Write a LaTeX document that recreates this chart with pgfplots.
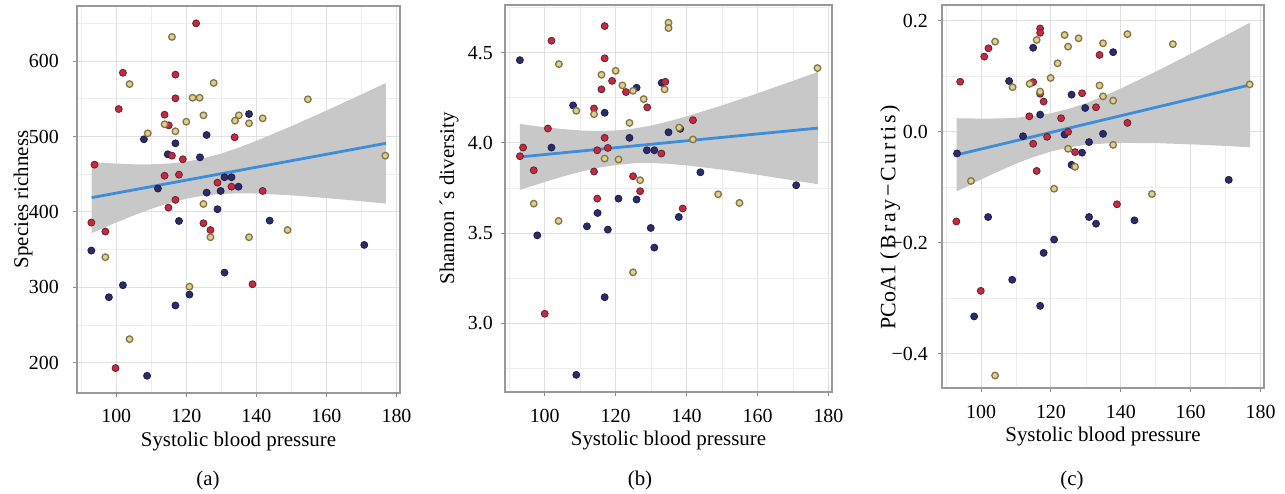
\documentclass[border=0pt]{standalone}
\usepackage{fontspec}
\setmainfont{Liberation Serif}
\usepackage{pgfplots}
\pgfplotsset{compat=1.18}
\definecolor{navyF}{HTML}{2D2B6B}
\definecolor{navyD}{HTML}{1E1D48}
\definecolor{redF}{HTML}{C9283F}
\definecolor{redD}{HTML}{5E2433}
\definecolor{oliveF}{HTML}{DCD08F}
\definecolor{oliveD}{HTML}{857546}
\definecolor{bandC}{HTML}{C8C8C8}
\definecolor{lineC}{HTML}{3A8EDB}
\pgfplotsset{
  panel/.style={
    scale only axis, anchor=south west,
    axis line style={draw=black!40, line width=1.3bp},
    tick style={draw=black!45, line width=1bp},
    tick align=outside, major tick length=4bp, minor tick length=0pt,
    xtick pos=left, ytick pos=left,
    grid=both,
    major grid style={draw=black!12, line width=1bp},
    minor grid style={draw=black!7, line width=0.8bp},
    xmin=88.8, xmax=181,
    xtick={100,120,140,160,180}, minor xtick={90,110,130,150,170},
    xticklabels={100,120,140,160,180},
    xticklabel style={anchor=base, yshift=-26bp, inner sep=0pt},
    yticklabel style={anchor=east, inner sep=0pt},
    font=\fontsize{20}{24}\selectfont,
    xlabel={Systolic blood pressure},
    xlabel style={at={(axis description cs:0.5,0)}, anchor=base, yshift=-53bp, font=\fontsize{21}{25}\selectfont},
  },
  navyM/.style={only marks, mark=*, mark size=3.5bp, mark options={fill=navyF, draw=navyD, line width=0.8bp}},
  redM/.style={only marks, mark=*, mark size=3.5bp, mark options={fill=redF, draw=redD, line width=0.8bp}},
  oliveM/.style={only marks, mark=*, mark size=3.3bp, mark options={fill=oliveF, draw=oliveD, line width=1.3bp}},
  bandS/.style={draw=none, fill=bandC},
  fitS/.style={draw=lineC, line width=2.8bp, no marks},
}
\begin{document}
\begin{tikzpicture}
\path[use as bounding box] (0,0) rectangle (1285bp,494bp);
% ---------------- (a)
\begin{axis}[panel, at={(77bp,101bp)}, width=323bp, height=387bp,
  ymin=160, ymax=673,
  ytick={200,300,400,500,600}, minor ytick={250,350,450,550,650},
  yticklabels={200,300,400,500,600},
  yticklabel style={xshift=-14bp},
  ylabel={Species richness},
  ylabel style={at={(axis description cs:-0.167,0.5)}, anchor=center, font=\fontsize{21}{25}\selectfont}]
\addplot[bandS] coordinates {(93,466.0) (100,464.0) (105,463.2) (110,463.1) (115,464.1) (120,466.7) (125,471.2) (130,477.5) (135,485.3) (140,494.2) (150,513.7) (160,534.4) (170,555.8) (177,571.0)
 (177,411.0) (170,414.2) (160,418.4) (150,422.0) (140,424.4) (135,424.7) (130,423.9) (125,421.7) (120,417.6) (115,411.6) (110,404.1) (105,395.4) (100,386.0) (93,372.0)} -- cycle;
\addplot[navyM] coordinates {(137.9,529.8) (125.8,502) (107.9,496.3) (116.9,491) (114.7,476.4) (123.9,472.4) (130.9,446) (132.9,446) (134.9,433.5) (111.9,431) (125.8,425.6) (129.8,427.8) (128.9,403.6) (117.9,388) (143.8,388.5) (92.9,348.8) (170.8,356.3) (130.9,319.6) (101.9,302.9) (120.9,290.5) (97.9,287) (116.9,276) (108.8,182.8)};
\addplot[redM] coordinates {(122.8,650) (101.9,584.5) (116.9,582) (116.9,550.6) (100.7,536.4) (113.8,528.9) (115.0,514.8) (133.8,499) (115.9,474.6) (119.0,469.8) (93.8,462.7) (113.8,448) (117.9,449.4) (128.9,438.8) (132.9,433.5) (141.8,427.8) (116.9,416) (114.9,405.7) (124.9,385) (126.9,376) (92.9,385.9) (96.9,374) (138.9,304.2) (99.8,193)};
\addplot[oliveM] coordinates {(115.9,632) (103.8,569.5) (127.8,571) (121.8,551.4) (123.8,551.4) (154.7,549.3) (124.9,528.1) (135.0,528.1) (133.9,521) (137.9,517.5) (141.8,524.1) (113.8,516.2) (120.0,519.6) (116.9,506.9) (109.0,504.2) (176.8,474.6) (124.9,410.6) (126.9,366.5) (148.9,376) (137.9,366.5) (96.9,340) (120.9,301) (103.8,231.4)};
\addplot[fitS] coordinates {(93,419) (177,491)};
\end{axis}
% ---------------- (b)
\begin{axis}[panel, at={(505bp,102bp)}, width=327bp, height=387bp,
  ymin=2.618, ymax=4.765,
  ytick={3.0,3.5,4.0,4.5}, minor ytick={2.75,3.25,3.75,4.25,4.75},
  yticklabels={3.0,3.5,4.0,4.5},
  yticklabel style={xshift=-8bp},
  ylabel={Shannon ´s diversity},
  ylabel style={at={(axis description cs:-0.171,0.5)}, anchor=center, font=\fontsize{21}{25}\selectfont}]
\addplot[bandS] coordinates {(93,4.105) (100,4.087) (105,4.077) (110,4.069) (115,4.066) (120,4.069) (125,4.079) (130,4.096) (135,4.120) (140,4.147) (150,4.208) (160,4.275) (170,4.344) (177,4.394)
 (177,3.771) (170,3.792) (160,3.823) (150,3.852) (140,3.875) (135,3.884) (130,3.888) (125,3.887) (120,3.877) (115,3.862) (110,3.839) (105,3.813) (100,3.783) (93,3.739)} -- cycle;
\addplot[navyM] coordinates {(93.0,4.459) (125.9,4.306) (133.0,4.333) (108.0,4.208) (116.9,4.167) (134.9,4.059) (138.2,4.078) (123.9,4.028) (101.9,3.974) (128.8,3.959) (130.9,3.959) (143.9,3.837) (170.9,3.765) (120.8,3.691) (125.9,3.686) (137.8,3.589) (114.9,3.611) (111.9,3.537) (117.8,3.519) (129.9,3.528) (97.9,3.487) (130.9,3.419) (116.9,3.144) (108.9,2.713)};
\addplot[redM] coordinates {(116.9,4.648) (101.9,4.567) (116.9,4.469) (119.0,4.344) (116.0,4.297) (122.9,4.282) (134.0,4.339) (128.9,4.197) (113.9,4.191) (100.9,4.080) (141.8,4.126) (116.9,4.028) (93.9,3.974) (93.0,3.926) (114.8,3.959) (117.8,3.972) (132.9,3.941) (96.9,3.848) (113.9,3.841) (124.9,3.815) (126.9,3.732) (114.8,3.691) (138.9,3.636) (100.0,3.052)};
\addplot[oliveM] coordinates {(134.9,4.667) (134.9,4.637) (104.0,4.437) (116.0,4.378) (120.0,4.4) (121.9,4.319) (124.9,4.289) (133.8,4.297) (127.9,4.243) (108.9,4.178) (113.9,4.159) (123.9,4.111) (137.9,4.085) (141.8,4.019) (116.9,3.913) (120.8,3.908) (126.9,3.793) (148.9,3.715) (154.9,3.667) (96.9,3.663) (103.9,3.567) (124.9,3.282) (176.9,4.415)};
\addplot[fitS] coordinates {(93,3.922) (177,4.082)};
\end{axis}
% ---------------- (c)
\begin{axis}[panel, at={(942bp,106bp)}, width=322bp, height=383bp,
  ymin=-0.462, ymax=0.228,
  ytick={-0.4,-0.2,0,0.2}, minor ytick={-0.3,-0.1,0.1},
  yticklabels={−0.4,−0.2,0.0,0.2},
  yticklabel style={xshift=-10bp},
  ylabel={PCoA1 {\addfontfeatures{LetterSpace=12}(Bray−Curtis)}},
  ylabel style={at={(axis description cs:-0.161,0.446)}, anchor=center, font=\fontsize{22}{26}\selectfont}]
\addplot[bandS] coordinates {(93,0.024) (100,0.0233) (105,0.0236) (110,0.0249) (115,0.0279) (120,0.0330) (125,0.0407) (130,0.0511) (135,0.0636) (140,0.0775) (150,0.1078) (160,0.1400) (170,0.1729) (177,0.1963)
 (177,-0.0283) (170,-0.0259) (160,-0.0230) (150,-0.0208) (140,-0.0205) (135,-0.0216) (130,-0.0241) (125,-0.0287) (120,-0.0360) (115,-0.0459) (110,-0.0579) (105,-0.0716) (100,-0.0863) (93,-0.108)} -- cycle;
\addplot[navyM] coordinates {(93.1,-0.0395) (114.9,0.151) (137.8,0.143) (108.0,0.091) (125.9,0.0665) (129.8,0.0425) (116.9,0.0305) (112.0,-0.0084) (123.9,-0.0054) (134.9,-0.0041) (130.9,-0.019) (128.9,-0.038) (125.9,-0.060) (170.9,-0.087) (102.0,-0.154) (130.9,-0.154) (132.9,-0.166) (143.9,-0.160) (120.9,-0.1946) (117.9,-0.2186) (108.9,-0.267) (116.9,-0.314) (98.0,-0.333)};
\addplot[redM] coordinates {(94.0,0.0898) (116.9,0.1856) (116.9,0.178) (102.1,0.150) (100.9,0.135) (133.9,0.138) (114.9,0.089) (116.9,0.068) (117.9,0.054) (128.9,0.069) (132.9,0.0437) (113.8,0.0275) (122.9,0.024) (141.9,0.0156) (118.9,-0.0095) (124.9,-0.0005) (114.9,-0.022) (126.9,-0.037) (115.9,-0.071) (138.9,-0.131) (92.9,-0.162) (99.9,-0.287)};
\addplot[oliveM] coordinates {(97.1,-0.089) (115.9,0.165) (104.0,0.162) (123.9,0.174) (127.9,0.168) (124.9,0.153) (141.9,0.1755) (134.9,0.159) (154.9,0.1575) (121.9,0.123) (119.9,0.0965) (109.0,0.080) (113.9,0.086) (116.9,0.072) (133.9,0.083) (134.9,0.0635) (137.8,0.0557) (137.8,-0.024) (124.9,-0.031) (126.9,-0.0635) (120.9,-0.103) (148.9,-0.1125) (176.9,0.085) (104.0,-0.4395)};
\addplot[fitS] coordinates {(93,-0.042) (177,0.084)};
\end{axis}
\node[font=\fontsize{21}{25}\selectfont] at (208bp,14bp) {(a)};
\node[font=\fontsize{21}{25}\selectfont] at (640bp,14bp) {(b)};
\node[font=\fontsize{21}{25}\selectfont] at (1072bp,14bp) {(c)};
\end{tikzpicture}
\end{document}
